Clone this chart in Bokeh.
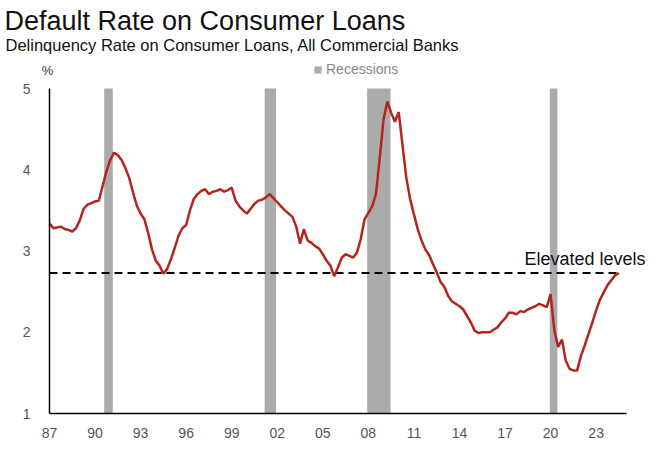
from bokeh.plotting import figure
from bokeh.models import Label, Legend, LegendItem, FixedTicker
from bokeh.embed import file_html
from bokeh.resources import INLINE

# ---------------- data ----------------
START_YEAR = 1987  # first quarter 1987Q1, quarterly observations
rate = [
    3.34, 3.28, 3.29, 3.30,   # 1987
    3.27, 3.26, 3.24, 3.28,   # 1988
    3.38, 3.52, 3.57, 3.59,   # 1989
    3.61, 3.62, 3.80, 3.98,   # 1990
    4.12, 4.21, 4.18, 4.12,   # 1991
    4.02, 3.90, 3.72, 3.56,   # 1992
    3.46, 3.39, 3.22, 3.02,   # 1993
    2.88, 2.82, 2.72, 2.78,   # 1994
    2.90, 3.04, 3.19, 3.28,   # 1995
    3.32, 3.50, 3.64, 3.70,   # 1996
    3.74, 3.76, 3.70, 3.73,   # 1997
    3.74, 3.76, 3.73, 3.75,   # 1998
    3.78, 3.62, 3.55, 3.50,   # 1999
    3.46, 3.52, 3.58, 3.62,   # 2000
    3.63, 3.66, 3.70, 3.65,   # 2001
    3.60, 3.55, 3.50, 3.46,   # 2002
    3.42, 3.30, 3.09, 3.27,   # 2003
    3.13, 3.10, 3.06, 3.03,   # 2004
    2.96, 2.88, 2.82, 2.69,   # 2005
    2.80, 2.92, 2.96, 2.94,   # 2006
    2.92, 2.98, 3.15, 3.39,   # 2007
    3.47, 3.55, 3.70, 4.15,   # 2008
    4.62, 4.84, 4.70, 4.59,   # 2009
    4.71, 4.30, 3.90, 3.64,   # 2010
    3.45, 3.27, 3.13, 3.02,   # 2011
    2.95, 2.84, 2.74, 2.62,   # 2012
    2.56, 2.45, 2.38, 2.35,   # 2013
    2.32, 2.28, 2.20, 2.12,   # 2014
    2.02, 1.99, 2.00, 2.00,   # 2015
    2.00, 2.03, 2.06, 2.12,   # 2016
    2.17, 2.24, 2.24, 2.22,   # 2017
    2.26, 2.25, 2.28, 2.30,   # 2018
    2.32, 2.35, 2.33, 2.31,   # 2019
    2.47, 2.02, 1.82, 1.91,   # 2020
    1.65, 1.55, 1.53, 1.53,   # 2021
    1.71, 1.84, 1.98, 2.12,   # 2022
    2.27, 2.40, 2.49, 2.58,   # 2023
    2.64, 2.70, 2.73,         # 2024
]
recession_start = [1990.60, 2001.17, 2007.92, 2019.95]
recession_end = [1991.17, 2001.92, 2009.46, 2020.45]
elevated_level = 2.73

x_tick_years = [1987, 1990, 1993, 1996, 1999, 2002, 2005, 2008, 2011, 2014, 2017, 2020, 2023]
x_tick_labels = ["87", "90", "93", "96", "99", "02", "05", "08", "11", "14", "17", "20", "23"]
y_ticks = [1, 2, 3, 4, 5]

dates = [START_YEAR + i / 4 for i in range(len(rate))]

# ---------------- layout geometry (pixels) ----------------
W, H = 657, 450
AX_L, AX_R, AX_T, AX_B = 49, 626, 88, 413   # where the axes box sits on the page
XA, XB = 1987, 2025
YA, YB = 1, 5
kx = (AX_R - AX_L) / (XB - XA)
ky = (AX_B - AX_T) / (YB - YA)
x_range = (XA - AX_L / kx, XA + (W - AX_L) / kx)
y_range = (YA - (H - AX_B) / ky, YB + AX_T / ky)

def sx(px):
    return x_range[0] + px / kx
def sy(py):
    return y_range[1] - py / ky

p = figure(width=W, height=H, x_range=x_range, y_range=y_range,
           output_backend="svg", toolbar_location=None,
           min_border=0, min_border_left=0, min_border_right=0,
           min_border_top=0, min_border_bottom=0)
p.background_fill_color = "white"
p.border_fill_color = "white"
p.outline_line_color = None
p.xgrid.grid_line_color = None
p.ygrid.grid_line_color = None

FONT = "Liberation Sans"

# recession bands
rec = p.quad(left=recession_start, right=recession_end,
             bottom=[YA] * len(recession_start), top=[YB] * len(recession_start),
             fill_color="#ababab", line_color=None)

# elevated level dashed line
p.line(x=[dates[0], dates[-1]], y=[elevated_level, elevated_level],
       line_color="black", line_width=2, line_dash="8 5")

# main series
p.line(x=dates, y=rate, line_color="#b3261e", line_width=2.5)

# axes (placed at fixed data locations, bounded to the data box)
for ax in (p.xaxis, p.yaxis):
    ax.axis_line_color = "black"
    ax.axis_line_width = 1.5
    ax.major_tick_line_color = None
    ax.minor_tick_line_color = None
    ax.major_label_text_font = FONT
    ax.major_label_text_font_size = "14px"
    ax.major_label_text_color = "#555555"

p.xaxis.fixed_location = YA
p.xaxis.bounds = (XA, XB)
p.xaxis.ticker = FixedTicker(ticks=x_tick_years)
p.xaxis.major_label_overrides = {y: l for y, l in zip(x_tick_years, x_tick_labels)}
p.xaxis.major_label_standoff = 8

p.yaxis.fixed_location = XA
p.yaxis.bounds = (YA, YB)
p.yaxis.ticker = FixedTicker(ticks=y_ticks)
p.yaxis.major_label_standoff = 13

# legend
legend = Legend(items=[LegendItem(label="Recessions", renderers=[rec])],
                location=(313, H - 77), orientation="horizontal",
                glyph_width=9, glyph_height=9, label_standoff=4,
                label_text_font=FONT, label_text_font_size="14px",
                label_text_color="#888888", label_height=14,
                padding=0, margin=0, spacing=0,
                background_fill_alpha=0, border_line_color=None)
p.add_layout(legend, "center")

# texts
p.add_layout(Label(x=sx(4), y=sy(20), text="Default Rate on Consumer Loans",
                   text_font=FONT, text_font_size="27px", text_color="#111111",
                   text_baseline="alphabetic", text_align="left"))
p.add_layout(Label(x=sx(5), y=sy(44), text="Delinquency Rate on Consumer Loans, All Commercial Banks",
                   text_font=FONT, text_font_size="16.5px", text_color="#111111",
                   text_baseline="alphabetic", text_align="left"))
p.add_layout(Label(x=sx(47), y=sy(70), text="%",
                   text_font=FONT, text_font_size="13px", text_color="#333333",
                   text_baseline="middle", text_align="center"))
p.add_layout(Label(x=sx(524), y=sy(258), text="Elevated levels",
                   text_font=FONT, text_font_size="18px", text_color="#111111",
                   text_baseline="alphabetic", text_align="left"))

open("out.html", "w").write(file_html(p, INLINE))
